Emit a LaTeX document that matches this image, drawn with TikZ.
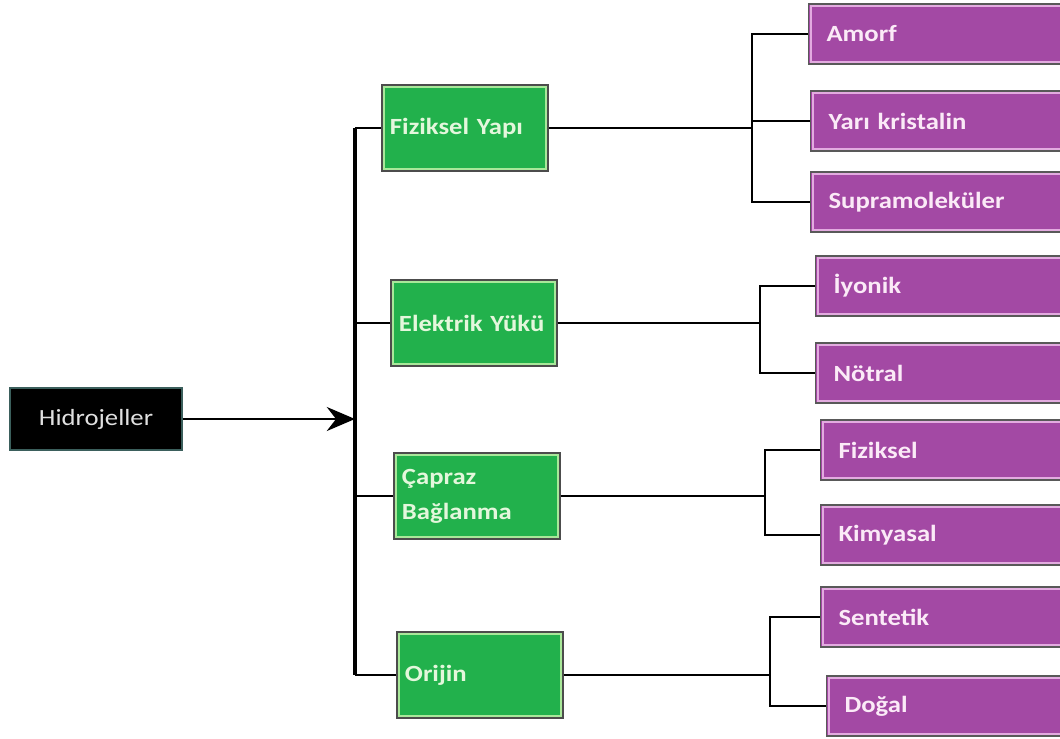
\documentclass[tikz,border=0pt]{standalone}
\usepackage{fontspec}
\setmainfont{Carlito}[FakeStretch=1.15]
\usetikzlibrary{arrows.meta}

\definecolor{boxgreen}{HTML}{22B14C}
\definecolor{greenline}{HTML}{A9E89A}
\definecolor{greentext}{HTML}{E4F7DC}
\definecolor{boxpurple}{HTML}{A349A4}
\definecolor{purpleline}{HTML}{E3ABE0}
\definecolor{purpletext}{HTML}{FBEAF7}
\definecolor{rootedge}{HTML}{3B5F5C}

\tikzset{
  innerline/.style={path picture={
      \draw[#1, line width=1.1pt]
        ([xshift=1.6pt,yshift=-1.6pt]path picture bounding box.north west) rectangle
        ([xshift=-1.6pt,yshift=1.6pt]path picture bounding box.south east);}},
  root/.style={draw=rootedge, line width=0.8pt, fill=black, text=white!88!black,
    minimum width=4.3cm, minimum height=1.55cm, font=\fontsize{16.5}{19}\selectfont},
  kind/.style={draw=black!70, line width=0.9pt, fill=boxgreen, innerline=greenline,
    text=greentext, font=\bfseries\fontsize{16.5}{25}\selectfont, align=left,
    text width=3.75cm, inner xsep=0.2cm, minimum height=2.15cm},
  leaf/.style={draw=black!65, line width=0.8pt, fill=boxpurple, innerline=purpleline,
    text=purpletext, font=\bfseries\fontsize{16.5}{19}\selectfont, align=left, anchor=west,
    text width=5.6cm, inner xsep=0.45cm, minimum height=1.5cm},
  link/.style={black, line width=2.1pt},
}

\begin{document}
\begin{tikzpicture}[x=0.025cm, y=-0.025cm]
    \useasboundingbox (0,0) rectangle (1060,738);
    \clip (0,0) rectangle (1060,738);

    % Root
    \node[root] (hydro) at (96,419) {Hidrojeller};

    % Classes
    \node[kind] (fiz) at (465,128) {Fiziksel Yapı};
    \node[kind] (elek) at (474,323) {Elektrik Yükü};
    \node[kind] (capraz) at (477,496) {Çapraz\\Bağlanma};
    \node[kind] (orijin) at (480,675) {Orijin};

    % Spine and arrow
    \coordinate (spine) at (355,0);
    \draw[link, line width=2.4pt] (fiz.west -| spine) -- (orijin.west -| spine);
    \foreach \n in {fiz, elek, capraz, orijin}
    {
        \draw[link] (\n.west -| spine) -- (\n.west);
    }
    \draw[link, -{Stealth[length=20pt, width=17pt]}] (hydro.east) -- (hydro.east -| spine);

        % Fiziksel Yapi
        \node[leaf] (amorf) at (808,34) {Amorf};
        \node[leaf] (yari) at (810,121) {Yarı kristalin};
        \node[leaf] (supra) at (810,202) {Supramoleküler};
        \coordinate (b1) at (752,0);
        \draw[link] (fiz.east) -- (fiz.east -| b1);
        \draw[link] (amorf.west) -| (supra.west -| b1) -- (supra.west);
        \draw[link] (yari.west -| b1) -- (yari.west);

        % Elektrik Yuku
        \node[leaf] (iyonik) at (815,286) {İyonik};
        \node[leaf] (notral) at (815,373) {Nötral};
        \coordinate (b2) at (760,0);
        \draw[link] (elek.east) -- (elek.east -| b2);
        \draw[link] (iyonik.west) -| (notral.west -| b2) -- (notral.west);

        % Capraz Baglanma
        \node[leaf] (fizik) at (820,450) {Fiziksel};
        \node[leaf] (kimya) at (820,535) {Kimyasal};
        \coordinate (b3) at (765,0);
        \draw[link, line width=1.5pt] (capraz.east) -- (capraz.east -| b3);
        \draw[link] (fizik.west) -| (kimya.west -| b3) -- (kimya.west);

        % Orijin
        \node[leaf] (sentetik) at (820,617) {Sentetik};
        \node[leaf] (dogal) at (826,706) {Doğal};
        \coordinate (b4) at (770,0);
        \draw[link, line width=1.5pt] (orijin.east) -- (orijin.east -| b4);
        \draw[link] (sentetik.west) -| (dogal.west -| b4) -- (dogal.west);
\end{tikzpicture}
\end{document}
